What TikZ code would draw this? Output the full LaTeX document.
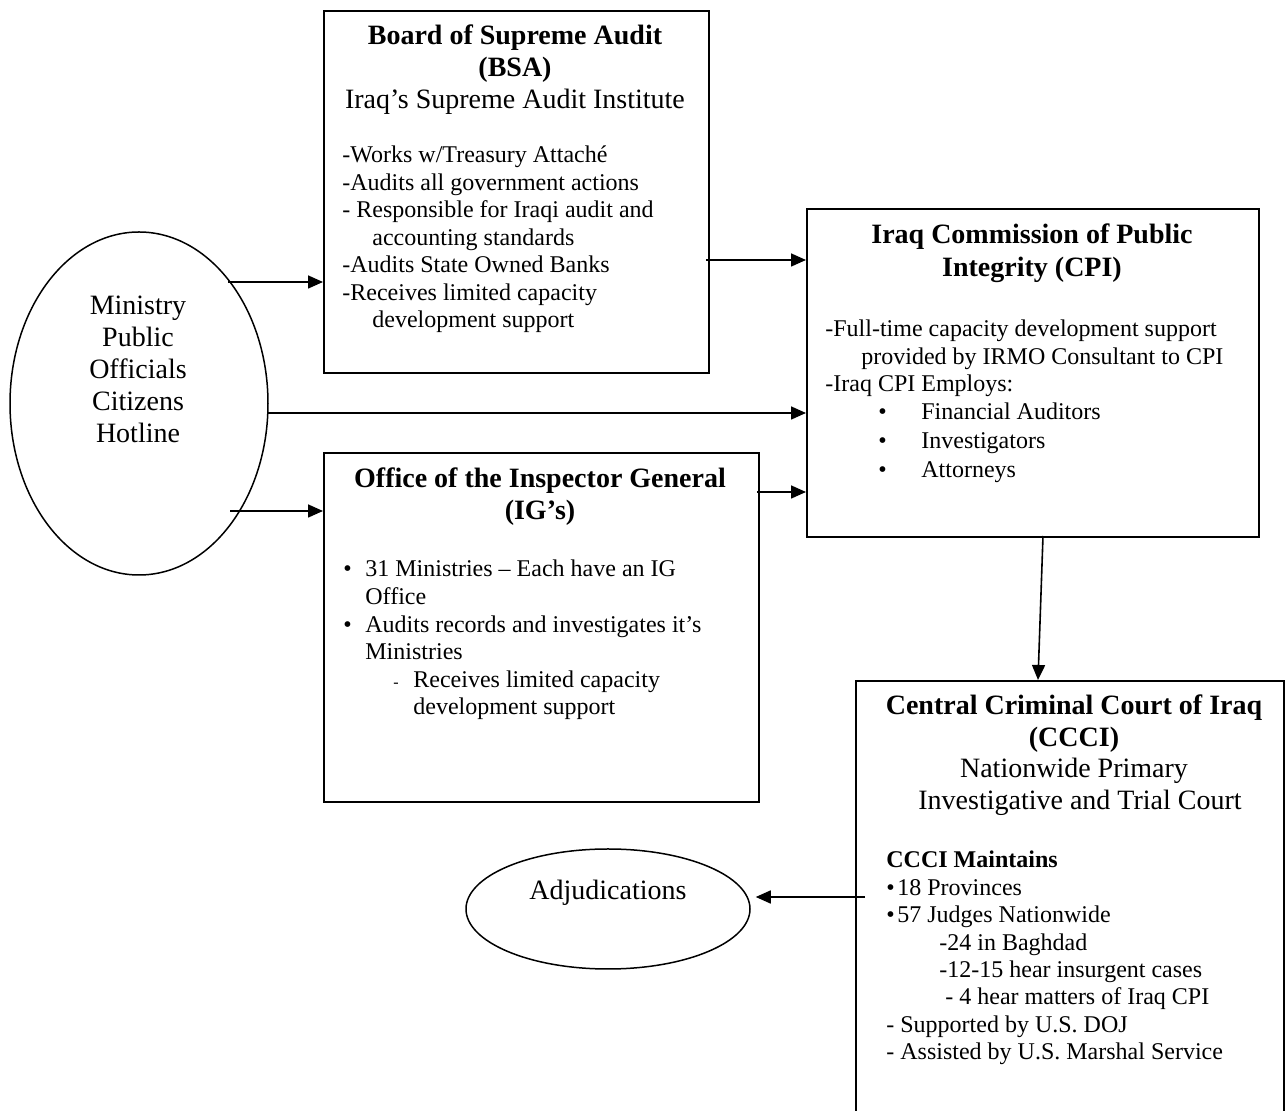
\documentclass[tikz,border=0pt]{standalone}
\usepackage{fontspec}
\setmainfont{Liberation Serif}
\usetikzlibrary{arrows.meta, shapes.geometric}

\tikzset{
  box/.style={draw, line width=1pt, rectangle, inner sep=0pt, anchor=north west},
  oval/.style={draw, line width=0.75pt, ellipse, inner sep=0pt},
  arr/.style={line width=0.8pt, -{Triangle[length=7.5pt, width=6.5pt]}},
  head/.style={font=\fontsize{14}{16}\selectfont\bfseries, anchor=base, inner sep=0pt},
  sub/.style={font=\fontsize{14}{16}\selectfont, anchor=base, inner sep=0pt},
  body/.style={font=\fontsize{12}{14}\selectfont, anchor=base west, inner sep=0pt}
}

\begin{document}
\begin{tikzpicture}[x=0.5pt, y=-0.5pt]
  \useasboundingbox (0,0) rectangle (1287,1111);
  \clip (0,0) rectangle (1287,1111);

  \node[box, minimum width=192.5pt, minimum height=181pt] (bsa) at (323,10) {};
  \node[box, minimum width=226pt, minimum height=164pt] (cpi) at (806,208) {};
  \node[box, minimum width=217.5pt, minimum height=174.5pt] (ig) at (323,452) {};
  \node[box, minimum width=214pt, minimum height=300pt] (ccci) at (855,680) {};
  \node[oval, minimum width=129pt, minimum height=171.5pt] (ministry) at (139,403.5) {};
  \node[oval, minimum width=142pt, minimum height=60pt] (adj) at (608,909) {};

  % Board of Supreme Audit
  \node[head] (bsa-t1) at (515,45) {Board of Supreme Audit};
  \node[head] (bsa-t2) at (515,76.5) {(BSA)};
  \node[sub] (bsa-t3) at (515,109) {Iraq’s Supreme Audit Institute};
  \foreach \t [count=\i from 0] in {{-Works w/Treasury Attaché},
      {-Audits all government actions},
      {- Responsible for Iraqi audit and},
      {\hspace{15pt}accounting standards},
      {-Audits State Owned Banks},
      {-Receives limited capacity},
      {\hspace{15pt}development support}}
    \node[body] (bsa-l\i) at (342,{163+27.5*\i}) {\t};

  % Commission of Public Integrity
  \node[head] (cpi-t1) at (1032,244) {Iraq Commission of Public};
  \node[head] (cpi-t2) at (1032,277) {Integrity (CPI)};
  \foreach \t [count=\i from 0] in {{-Full-time capacity development support},
      {\hspace{18pt}provided by IRMO Consultant to CPI},
      {-Iraq CPI Employs:}}
    \node[body] (cpi-l\i) at (825,{337+27.5*\i}) {\t};
  \foreach \t [count=\i from 0] in {Financial Auditors, Investigators, Attorneys}
    \node[body] (cpi-b\i) at (878,{420+29*\i}) {\makebox[21.5pt][l]{•}\t};

  % Inspector General
  \node[head] (ig-t1) at (540,488) {Office of the Inspector General};
  \node[head] (ig-t2) at (540,520) {(IG’s)};
  \foreach \t [count=\i from 0] in {{\makebox[11pt][l]{•}31 Ministries – Each have an IG},
      {\hspace{11pt}Office},
      {\makebox[11pt][l]{•}Audits records and investigates it’s},
      {\hspace{11pt}Ministries},
      {\hspace{25pt}\makebox[10pt][l]{\footnotesize -}Receives limited capacity},
      {\hspace{35pt}development support}}
    \node[body] (ig-l\i) at (343,{577+27.6*\i}) {\t};

  % Central Criminal Court
  \node[head] (ccci-t1) at (1074,715) {Central Criminal Court of Iraq};
  \node[head] (ccci-t2) at (1074,747) {(CCCI)};
  \node[sub] (ccci-t3) at (1074,778) {Nationwide Primary};
  \node[sub] (ccci-t4) at (1080,810) {Investigative and Trial Court};
  \foreach \t [count=\i from 0] in {{\bfseries CCCI Maintains},
      {\makebox[5.5pt][l]{•}18 Provinces},
      {\makebox[5.5pt][l]{•}57 Judges Nationwide},
      {\hspace{26.5pt}-24 in Baghdad},
      {\hspace{26.5pt}-12-15 hear insurgent cases},
      {\hspace{29.5pt}- 4 hear matters of Iraq CPI},
      {- Supported by U.S. DOJ},
      {- Assisted by U.S. Marshal Service}}
    \node[body] (ccci-l\i) at (886,{868+27.4*\i}) {\t};

  % ovals
  \foreach \t [count=\i from 0] in {Ministry, Public, Officials, Citizens, Hotline}
    \node[sub] (ministry-l\i) at (138,{315+32*\i}) {\t};
  \node[sub] (adj-t) at (608,900) {Adjudications};

  \coordinate (m1) at (228,282);
  \coordinate (m2) at (268,413);
  \coordinate (m3) at (230,511);
  \coordinate (b1) at (706,260);
  \coordinate (g1) at (757,492);
  \coordinate (c1) at (1043,536);
  \coordinate (c2) at (1038,680);
  \coordinate (j1) at (865,897);

  \draw[arr] (m1) -- (m1 -| bsa.west);
  \draw[arr] (m2) -- (m2 -| cpi.west);
  \draw[arr] (m3) -- (m3 -| ig.west);
  \draw[arr] (b1) -- (b1 -| cpi.west);
  \draw[arr] (g1) -- (g1 -| cpi.west);
  \draw[arr] (c1) -- (c2);
  \draw[arr, shorten >=2.5pt] (j1) -- (j1 -| adj.east);
\end{tikzpicture}
\end{document}
